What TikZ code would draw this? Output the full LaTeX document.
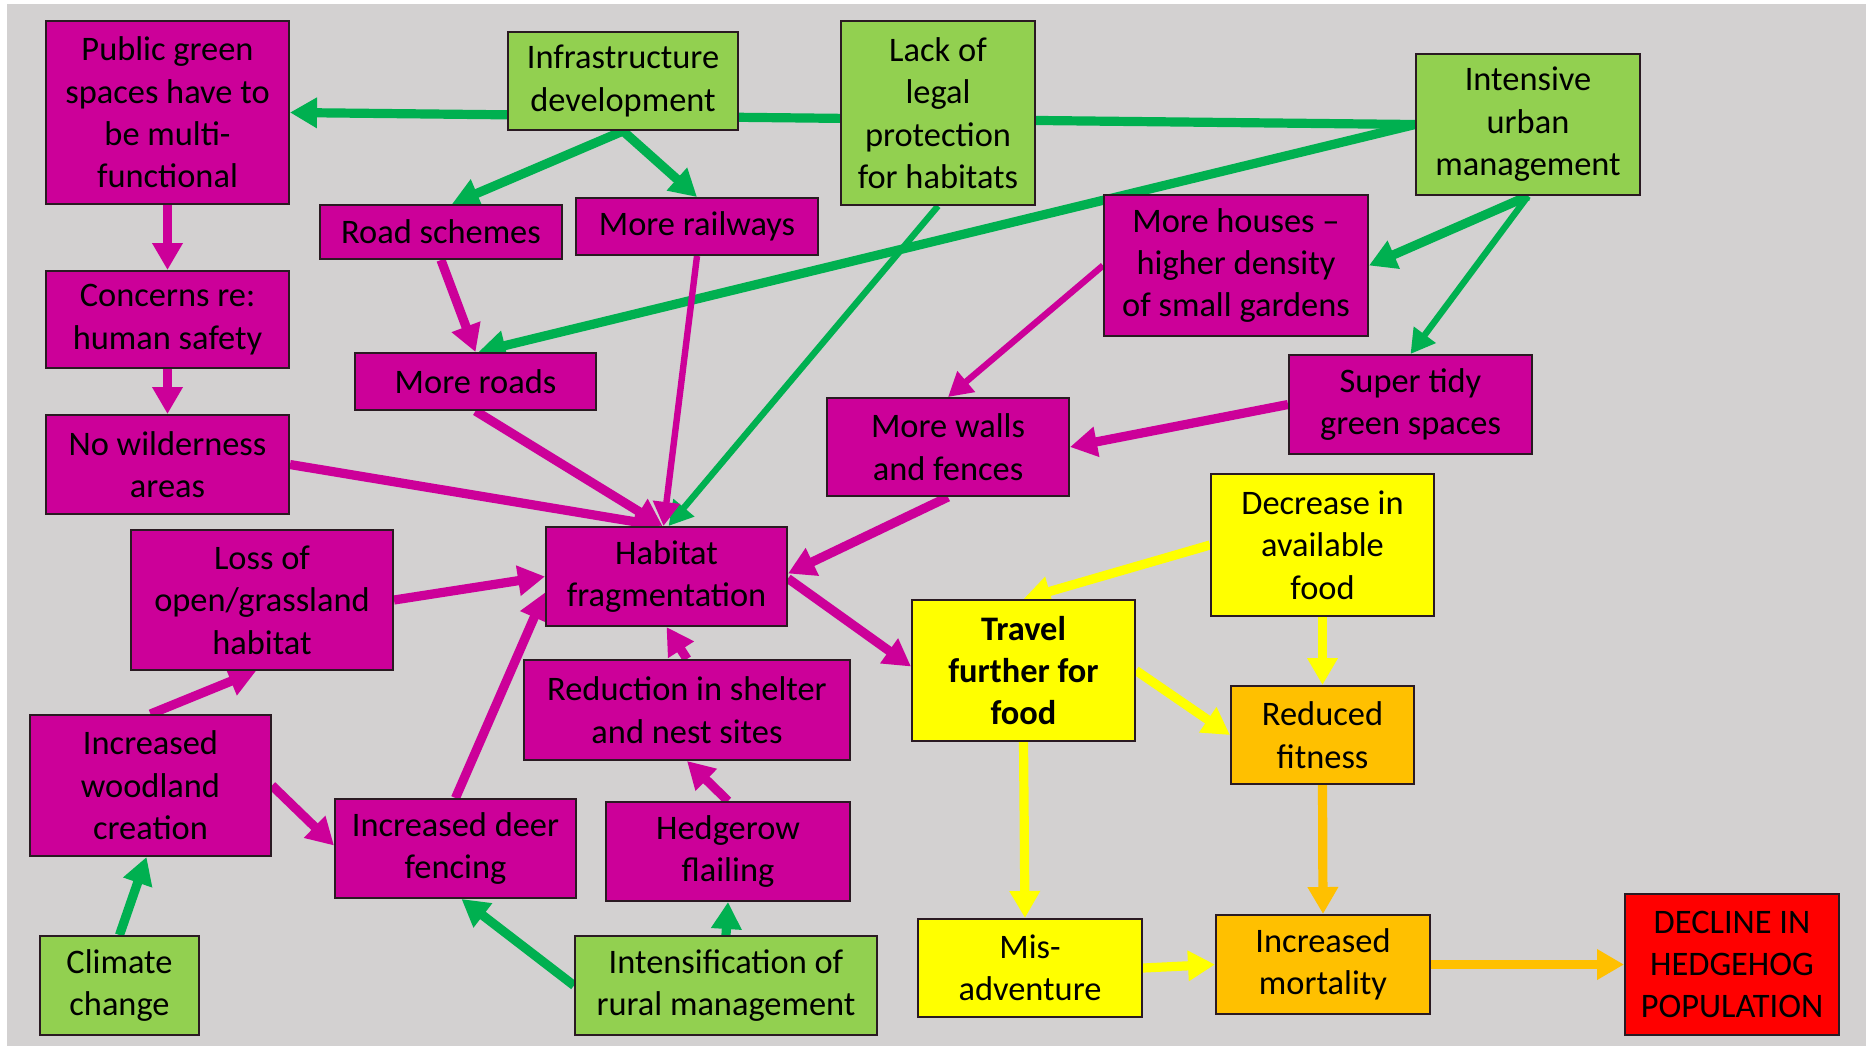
\documentclass[tikz,border=0pt]{standalone}
\usepackage{fontspec}
\setmainfont{Carlito}
\usetikzlibrary{arrows.meta,calc}
\pgfdeclarelayer{bg}
\pgfsetlayers{bg,main}

\definecolor{canvas}{HTML}{D3D1D1}
\definecolor{mag}{HTML}{CC0099}
\definecolor{leaf}{HTML}{92D050}
\definecolor{arrowgreen}{HTML}{00B050}
\definecolor{sun}{HTML}{FFFF00}
\definecolor{amber}{HTML}{FFC000}
\definecolor{alarm}{HTML}{FF0000}
\definecolor{rim}{HTML}{2A1A22}

\tikzset{
  box/.style={draw=rim, line width=1pt, align=center, inner sep=0pt,
    font=\fontsize{17.2}{21.2}\selectfont, text=black},
  mbox/.style={box, fill=mag},
  gbox/.style={box, fill=leaf},
  ybox/.style={box, fill=sun},
  obox/.style={box, fill=amber},
  rbox/.style={box, fill=alarm},
  link/.style={line width=4.6pt, -{Triangle[length=13.5pt,width=14.5pt]}},
  slim/.style={line width=3.2pt, -{Triangle[length=12pt,width=13pt]}},
  gl/.style={draw=arrowgreen},
  ml/.style={draw=mag},
  yl/.style={draw=sun},
  ol/.style={draw=amber},
}

% box: name, style, x1, y1, x2, y2, text (pixel units, y downwards)
\newcommand\mkbox[7]{%
  \node[#2, minimum width={(#5-#3)*0.5pt}, minimum height={(#6-#4)*0.5pt}]
    (#1) at ({(#3+#5)/2},{(#4+#6)/2}) {#7};}

\begin{document}
\begin{tikzpicture}[x=0.5pt, y=-0.5pt]
\useasboundingbox (0,0) rectangle (1866,1046);

% causes and effects
\mkbox{pub}{mbox}{46}{21}{289}{204}{Public green\\spaces have to\\be multi-\\functional}
\mkbox{infra}{gbox}{508}{32}{738}{130}{Infrastructure\\development}
\mkbox{legal}{gbox}{841}{21}{1035}{205}{Lack of\\legal\\protection\\for habitats}
\mkbox{urban}{gbox}{1416}{54}{1640}{195}{Intensive\\urban\\management}
\mkbox{road}{mbox}{320}{205}{562}{259}{Road schemes}
\mkbox{rail}{mbox}{576}{198}{818}{255}{More railways}
\mkbox{houses}{mbox}{1104}{195}{1368}{336}{More houses --\\higher density\\of small gardens}
\mkbox{concerns}{mbox}{46}{271}{289}{368}{Concerns re:\\human safety}
\mkbox{roads}{mbox}{355}{353}{596}{410}{More roads}
\mkbox{tidy}{mbox}{1289}{355}{1532}{454}{Super tidy\\green spaces}
\mkbox{wild}{mbox}{46}{415}{289}{514}{No wilderness\\areas}
\mkbox{walls}{mbox}{827}{398}{1069}{496}{More walls\\and fences}
\mkbox{decrease}{ybox}{1211}{474}{1434}{616}{Decrease in\\available\\food}
\mkbox{loss}{mbox}{131}{530}{393}{670}{Loss of\\open/grassland\\habitat}
\mkbox{habitat}{mbox}{546}{527}{787}{626}{Habitat\\fragmentation}
\mkbox{travel}{ybox}{912}{600}{1135}{741}{\bfseries Travel\\\bfseries further for\\\bfseries food}
\mkbox{reduction}{mbox}{524}{660}{850}{760}{Reduction in shelter\\and nest sites}
\mkbox{fitness}{obox}{1231}{686}{1414}{784}{Reduced\\fitness}
\mkbox{woodland}{mbox}{30}{715}{271}{856}{Increased\\woodland\\creation}
\mkbox{deer}{mbox}{335}{799}{576}{898}{Increased deer\\fencing}
\mkbox{hedge}{mbox}{606}{802}{850}{901}{Hedgerow\\flailing}
\mkbox{misadv}{ybox}{918}{919}{1142}{1017}{Mis-\\adventure}
\mkbox{mortality}{obox}{1216}{915}{1430}{1014}{Increased\\mortality}
\mkbox{decline}{rbox}{1625}{894}{1839}{1035}{DECLINE IN\\HEDGEHOG\\POPULATION}
\mkbox{climate}{gbox}{40}{936}{199}{1035}{Climate\\change}
\mkbox{rural}{gbox}{575}{936}{877}{1035}{Intensification of\\rural management}

\begin{pgfonlayer}{bg}
  \fill[white] (0,0) rectangle (1866,1046);
  \fill[canvas] (7,4) rectangle (1866,1046);

  % drivers (green)
  \draw[link,gl] (urban.west) -- (pub.east);
  \draw[link,gl] (urban.west) -- ($(roads.north)+(3,0)$);
  \draw[link,gl] (infra.south) -- ($(road.north)+(11,0)$);
  \draw[link,gl] (infra.south) -- (rail.north);
  \draw[slim,gl] (legal.south) -- ($(habitat.north)+(2,0)$);
  \draw[link,gl] (urban.south) -- (houses.east);
  \draw[slim,gl] (urban.south) -- (tidy.north);
  \draw[link,gl] (climate.north) -- ($(woodland.south)+(-4,0)$);
  \draw[link,gl] (rural.west) -- ($(deer.south)+(6,0)$);
  \draw[link,gl] (rural.north) -- (hedge.south);

  % habitat pressures (magenta)
  \draw[link,ml] (pub.south) -- (concerns.north);
  \draw[link,ml] (concerns.south) -- (wild.north);
  \draw[link,ml] (road.south) -- (roads.north);
  \draw[slim,ml] (rail.south) -- ($(habitat.north)+(-3,0)$);
  \draw[link,ml] (roads.south) -- ($(habitat.north)+(-4,0)$);
  \draw[link,ml] (wild.east) -- ($(habitat.north)+(-6,0)$);
  \draw[slim,ml] (houses.west) -- (walls.north);
  \draw[link,ml] (tidy.west) -- (walls.east);
  \draw[link,ml] (walls.south) -- ($(habitat.east)+(0,-3)$);
  \draw[link,ml] (loss.east) -- (habitat.west);
  \draw[link,ml] (woodland.north) -- ($(loss.south)+(-6,0)$);
  \draw[link,ml] (woodland.east) -- ($(deer.west)+(0,-3)$);
  \draw[link,ml] (deer.north) -- ($(habitat.west)+(0,16)$);
  \draw[link,ml] (reduction.north) -- (habitat.south);
  \draw[link,ml] (hedge.north) -- (reduction.south);
  \draw[link,ml] ($(habitat.east)+(0,2)$) -- ($(travel.west)+(0,-4)$);

  % food (yellow)
  \draw[link,yl] (decrease.west) -- (travel.north);
  \draw[link,yl] (decrease.south) -- (fitness.north);
  \draw[link,yl] (travel.east) -- (fitness.west);
  \draw[link,yl] (travel.south) -- ($(misadv.north)+(-5,0)$);
  \draw[link,yl] (misadv.east) -- (mortality.west);

  % outcome (orange)
  \draw[link,ol] (fitness.south) -- (mortality.north);
  \draw[link,ol] (mortality.east) -- (decline.west);
\end{pgfonlayer}
\end{tikzpicture}
\end{document}
